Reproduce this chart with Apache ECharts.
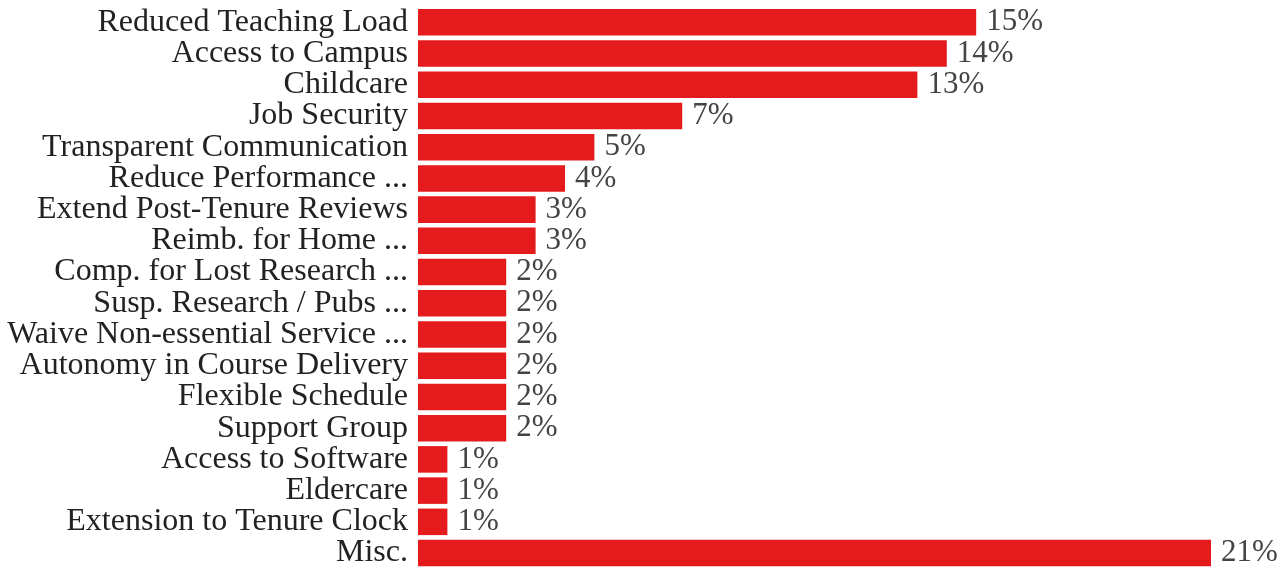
<!DOCTYPE html>
<html>
<head>
<meta charset="utf-8">
<script src="https://cdn.jsdelivr.net/npm/echarts@6/dist/echarts.min.js"></script>
<style>
html,body{margin:0;padding:0;background:#fff;}
#chart{width:1288px;height:569px;}
</style>
</head>
<body>
<div id="chart"></div>
<script>
const categories = [
  "Reduced Teaching Load",
  "Access to Campus",
  "Childcare",
  "Job Security",
  "Transparent Communication",
  "Reduce Performance ...",
  "Extend Post-Tenure Reviews",
  "Reimb. for Home ...",
  "Comp. for Lost Research ...",
  "Susp. Research / Pubs ...",
  "Waive Non-essential Service ...",
  "Autonomy in Course Delivery",
  "Flexible Schedule",
  "Support Group",
  "Access to Software",
  "Eldercare",
  "Extension to Tenure Clock",
  "Misc."
];
const percentValues = [14.62, 13.85, 13.08, 6.92, 4.62, 3.85, 3.08, 3.08, 2.31, 2.31, 2.31, 2.31, 2.31, 2.31, 0.77, 0.77, 0.77, 20.77];
const percentLabels = ["15%", "14%", "13%", "7%", "5%", "4%", "3%", "3%", "2%", "2%", "2%", "2%", "2%", "2%", "1%", "1%", "1%", "21%"];

const chart = echarts.init(document.getElementById('chart'));
const FONT = '"Liberation Serif", "Times New Roman", serif';
chart.setOption({
  animation: false,
  backgroundColor: '#ffffff',
  grid: { left: 418, right: 77, top: 6.7, height: 564, containLabel: false },
  xAxis: {
    type: 'value', min: 0, max: 20.77,
    show: false, splitLine: { show: false }
  },
  yAxis: {
    type: 'category', data: categories, inverse: true,
    axisLine: { show: false }, axisTick: { show: false },
    axisLabel: { interval: 0, color: '#222', fontFamily: FONT, fontSize: 32, margin: 10, padding: [4, 0, 0, 0] }
  },
  series: [{
    type: 'bar',
    data: percentValues,
    barCategoryGap: '15%',
    itemStyle: { color: '#e41a1c' },
    label: {
      show: true, position: 'right', distance: 10,
      color: '#444', fontFamily: FONT, fontSize: 31, padding: [4, 0, 0, 0],
      formatter: p => percentLabels[p.dataIndex]
    }
  }]
});
</script>
</body>
</html>
